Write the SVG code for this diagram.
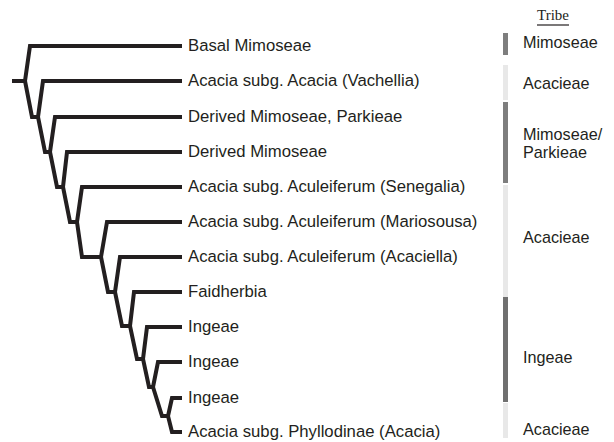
<svg xmlns="http://www.w3.org/2000/svg" width="614" height="442" viewBox="0 0 614 442">
<style>
.leaf{font-family:"Liberation Sans",Arial,sans-serif;font-size:16.7px;fill:#231f20}
.tribe{font-family:"Liberation Sans",Arial,sans-serif;font-size:16.2px;fill:#231f20}
.hdr{font-family:"Liberation Serif","Times New Roman",serif;font-size:15px;fill:#231f20}
.br{fill:none;stroke:#231f20;stroke-width:4;stroke-linejoin:miter;stroke-linecap:butt}
.dark{fill:#7e7e7e}
.darker{fill:#707070}
.light{fill:#e8e8e8}
</style>
<rect width="614" height="442" fill="#ffffff"/>
<g id="connectors">
<path class="br" d="M12,81 H25"/>
<path class="br" d="M182,46 H30 L25,81 L32,117 H38"/>
<path class="br" d="M182,81 H43 L38,117 L45,152 H50"/>
<path class="br" d="M182,117 H55 L50,152 L57,187 H63"/>
<path class="br" d="M182,152 H67 L63,187 L70,222 H77"/>
<path class="br" d="M182,187 H82 L77,222 L82,257 H101"/>
<path class="br" d="M182,222 H107 L101,257 L108,292 H115"/>
<path class="br" d="M182,257 H120 L115,292 L122,326 H130"/>
<path class="br" d="M182,292 H134 L130,326 L137,359 H143"/>
<path class="br" d="M182,327 H147 L143,359 L149,387 H153"/>
<path class="br" d="M182,362 H158 L153,387 L162,416 H168"/>
<path class="br" d="M182,398 H172 L168,416 L172,432 H182"/>
</g>
<g id="leaf1"><text class="leaf" x="188" y="51">Basal Mimoseae</text></g>
<g id="leaf2"><text class="leaf" x="188" y="86">Acacia subg. Acacia (Vachellia)</text></g>
<g id="leaf3"><text class="leaf" x="188" y="122">Derived Mimoseae, Parkieae</text></g>
<g id="leaf4"><text class="leaf" x="188" y="157">Derived Mimoseae</text></g>
<g id="leaf5"><text class="leaf" x="188" y="192">Acacia subg. Aculeiferum (Senegalia)</text></g>
<g id="leaf6"><text class="leaf" x="188" y="227">Acacia subg. Aculeiferum (Mariosousa)</text></g>
<g id="leaf7"><text class="leaf" x="188" y="262">Acacia subg. Aculeiferum (Acaciella)</text></g>
<g id="leaf8"><text class="leaf" x="188" y="297">Faidherbia</text></g>
<g id="leaf9"><text class="leaf" x="188" y="332">Ingeae</text></g>
<g id="leaf10"><text class="leaf" x="188" y="367">Ingeae</text></g>
<g id="leaf11"><text class="leaf" x="188" y="403">Ingeae</text></g>
<g id="leaf12"><text class="leaf" x="188" y="437">Acacia subg. Phyllodinae (Acacia)</text></g>
<g id="tribe-header">
<text class="hdr" x="553" y="20" text-anchor="middle">Tribe</text>
<line x1="537" y1="25" x2="569" y2="25" stroke="#231f20" stroke-width="1.2"/>
</g>
<g id="tribe-mimoseae"><rect class="dark" x="503" y="33" width="5" height="22"/><text class="tribe" x="523" y="48">Mimoseae</text></g>
<g id="tribe-acacieae1"><rect class="light" x="503" y="65" width="5" height="35"/><text class="tribe" x="523" y="89">Acacieae</text></g>
<g id="tribe-mimoseae-parkieae"><rect class="dark" x="503" y="102" width="5" height="81"/><text class="tribe" x="523" y="140">Mimoseae/</text><text class="tribe" x="523" y="158">Parkieae</text></g>
<g id="tribe-acacieae2"><rect class="light" x="503" y="185" width="5" height="112"/><text class="tribe" x="523" y="243">Acacieae</text></g>
<g id="tribe-ingeae"><rect class="darker" x="503" y="297" width="5" height="105"/><text class="tribe" x="523" y="363">Ingeae</text></g>
<g id="tribe-acacieae3"><rect class="light" x="503" y="403" width="5" height="35"/><text class="tribe" x="523" y="435">Acacieae</text></g>
</svg>
